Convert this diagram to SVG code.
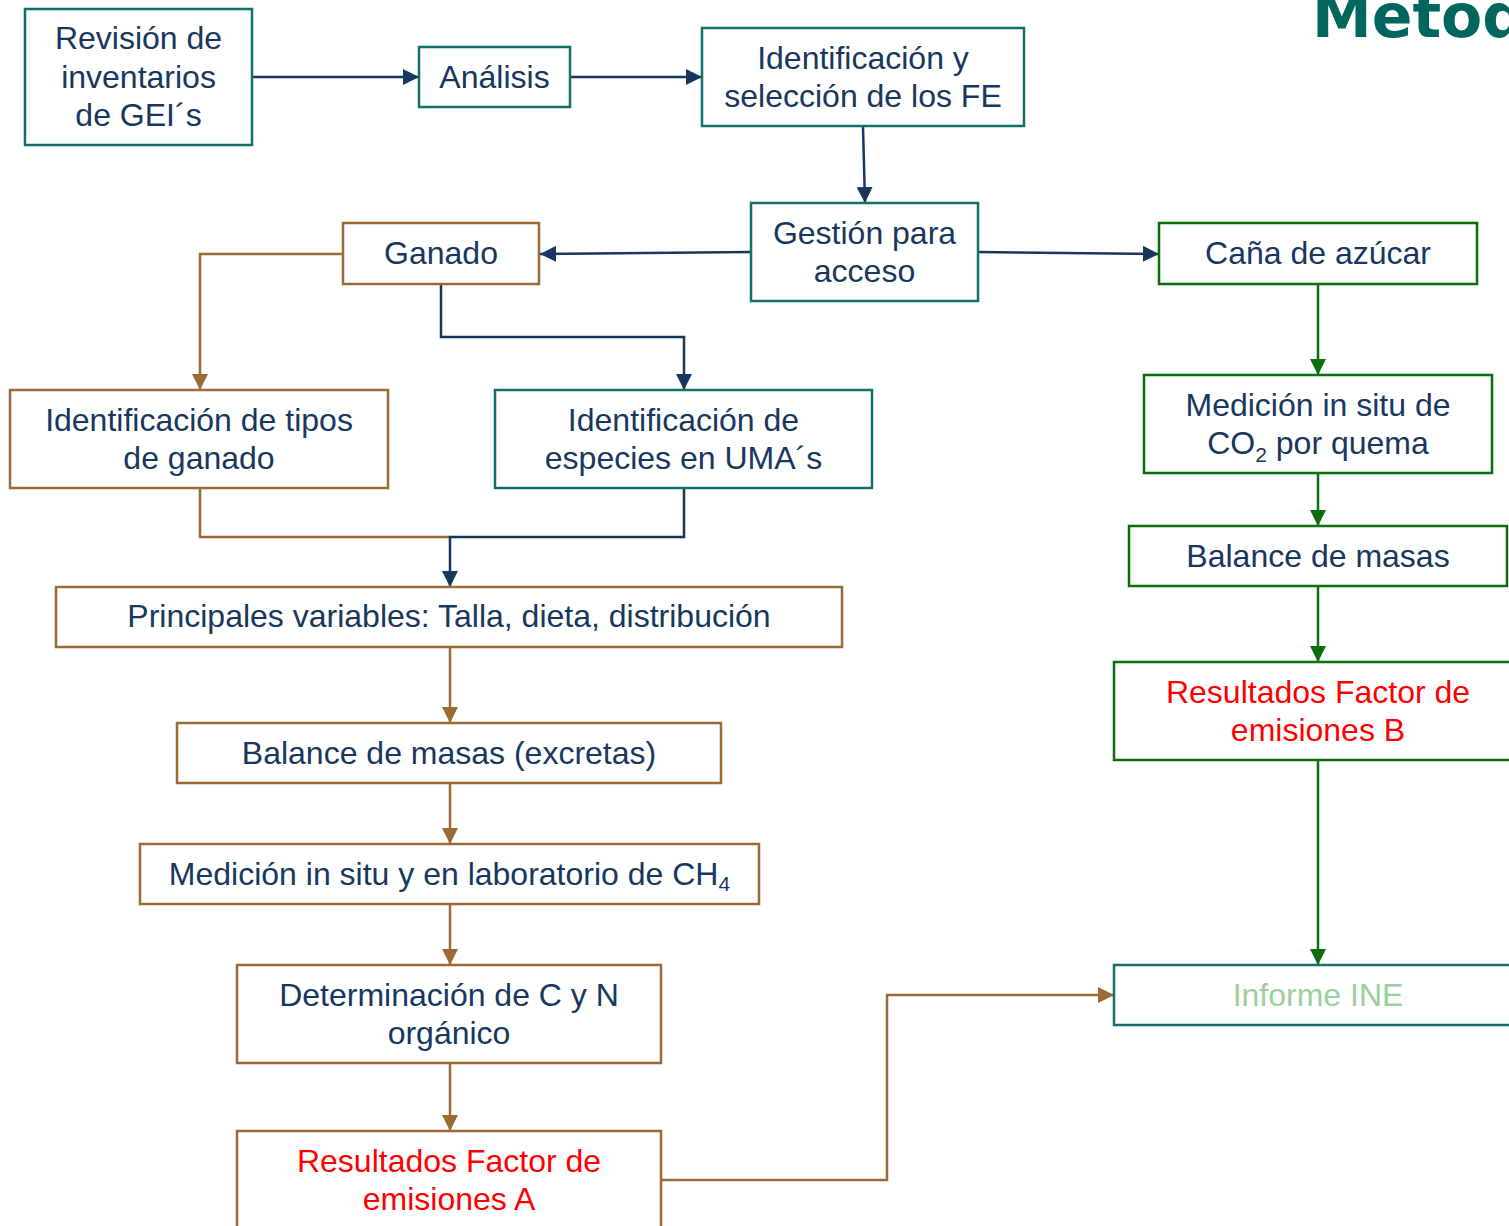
<svg xmlns="http://www.w3.org/2000/svg" width="1509" height="1226" viewBox="0 0 1509 1226">
<style>
.bx{fill:#fff;stroke-width:2.5}
.teal{stroke:#137069}
.brown{stroke:#9C6A34}
.green{stroke:#0A6E0A}
.t{font-family:"Liberation Sans",Arial,sans-serif;font-size:32px;fill:#17375E;text-anchor:middle}
.red{fill:#FF0000}
.lg{fill:#9CCF9C}
.sub{font-size:21px}
.c{fill:none;stroke-width:2.5}
.cn{stroke:#17375E}
.cb{stroke:#9C6A34}
.cg{stroke:#0A6E0A}
</style>
<defs>
<marker id="an" markerUnits="userSpaceOnUse" markerWidth="17" markerHeight="16" refX="16" refY="8" orient="auto"><path d="M0,0 L16,8 L0,16 z" fill="#17375E"/></marker>
<marker id="ab" markerUnits="userSpaceOnUse" markerWidth="17" markerHeight="16" refX="16" refY="8" orient="auto"><path d="M0,0 L16,8 L0,16 z" fill="#9C6A34"/></marker>
<marker id="ag" markerUnits="userSpaceOnUse" markerWidth="17" markerHeight="16" refX="16" refY="8" orient="auto"><path d="M0,0 L16,8 L0,16 z" fill="#0A6E0A"/></marker>
</defs>
<rect width="1509" height="1226" fill="#fff"/>
<text x="1312" y="37" style="font-family:'DejaVu Sans',sans-serif;font-weight:bold;font-size:60px;fill:#00665E">Metod</text>

<g id="connectors">
<path class="c cn" d="M252,77 H419" marker-end="url(#an)"/>
<path class="c cn" d="M570,77 H702" marker-end="url(#an)"/>
<path class="c cn" d="M863,127 L865,203" marker-end="url(#an)"/>
<path class="c cn" d="M751,252 L540,254" marker-end="url(#an)"/>
<path class="c cn" d="M978,252 L1159,254" marker-end="url(#an)"/>
<path class="c cb" d="M343,254 H200 V390" marker-end="url(#ab)"/>
<path class="c cn" d="M441,284 V337 H684 V390" marker-end="url(#an)"/>
<path class="c cb" d="M200,488 V537 H450"/>
<path class="c cn" d="M684,488 V537 H450 V587" marker-end="url(#an)"/>
<path class="c cb" d="M450,647 V723" marker-end="url(#ab)"/>
<path class="c cb" d="M450,783 V844" marker-end="url(#ab)"/>
<path class="c cb" d="M450,904 V965" marker-end="url(#ab)"/>
<path class="c cb" d="M450,1063 V1131" marker-end="url(#ab)"/>
<path class="c cb" d="M661,1180 H887 V995 H1114" marker-end="url(#ab)"/>
<path class="c cg" d="M1318,284 V375" marker-end="url(#ag)"/>
<path class="c cg" d="M1318,473 V526" marker-end="url(#ag)"/>
<path class="c cg" d="M1318,586 V662" marker-end="url(#ag)"/>
<path class="c cg" d="M1318,760 V965" marker-end="url(#ag)"/>
</g>

<g id="revision"><rect class="bx teal" x="25" y="9" width="227" height="136"/>
<text class="t" x="138.5" y="49">Revisión de</text><text class="t" x="138.5" y="88">inventarios</text><text class="t" x="138.5" y="126">de GEI´s</text></g>
<g id="analisis"><rect class="bx teal" x="419" y="47" width="151" height="60"/>
<text class="t" x="494.5" y="88">Análisis</text></g>
<g id="identificacion-fe"><rect class="bx teal" x="702" y="28" width="322" height="98"/>
<text class="t" x="863" y="69">Identificación y</text><text class="t" x="863" y="107">selección de los FE</text></g>
<g id="gestion"><rect class="bx teal" x="751" y="203" width="227" height="98"/>
<text class="t" x="864.5" y="244">Gestión para</text><text class="t" x="864.5" y="282">acceso</text></g>
<g id="ganado"><rect class="bx brown" x="343" y="223" width="196" height="61"/>
<text class="t" x="441" y="264">Ganado</text></g>
<g id="cana"><rect class="bx green" x="1159" y="223" width="318" height="61"/>
<text class="t" x="1318" y="264">Caña de azúcar</text></g>
<g id="tipos"><rect class="bx brown" x="10" y="390" width="378" height="98"/>
<text class="t" x="199" y="431">Identificación de tipos</text><text class="t" x="199" y="469">de ganado</text></g>
<g id="especies"><rect class="bx teal" x="495" y="390" width="377" height="98"/>
<text class="t" x="683.5" y="431">Identificación de</text><text class="t" x="683.5" y="469">especies en UMA´s</text></g>
<g id="medicion-co2"><rect class="bx green" x="1144" y="375" width="348" height="98"/>
<text class="t" x="1318" y="416">Medición in situ de</text><text class="t" x="1318" y="454">CO<tspan class="sub" dy="8">2</tspan><tspan dy="-8"> por quema</tspan></text></g>
<g id="balance"><rect class="bx green" x="1129" y="526" width="378" height="60"/>
<text class="t" x="1318" y="567">Balance de masas</text></g>
<g id="principales"><rect class="bx brown" x="56" y="587" width="786" height="60"/>
<text class="t" x="449" y="627">Principales variables: Talla, dieta, distribución</text></g>
<g id="balance-excretas"><rect class="bx brown" x="177" y="723" width="544" height="60"/>
<text class="t" x="449" y="764">Balance de masas (excretas)</text></g>
<g id="medicion-ch4"><rect class="bx brown" x="140" y="844" width="619" height="60"/>
<text class="t" x="449.5" y="885">Medición in situ y en laboratorio de CH<tspan class="sub" dy="6">4</tspan></text></g>
<g id="determinacion"><rect class="bx brown" x="237" y="965" width="424" height="98"/>
<text class="t" x="449" y="1006">Determinación de C y N</text><text class="t" x="449" y="1044">orgánico</text></g>
<g id="resultados-a"><rect class="bx brown" x="237" y="1131" width="424" height="120"/>
<text class="t red" x="449" y="1172">Resultados Factor de</text><text class="t red" x="449" y="1210">emisiones A</text></g>
<g id="resultados-b"><rect class="bx green" x="1114" y="662" width="410" height="98"/>
<text class="t red" x="1318" y="703">Resultados Factor de</text><text class="t red" x="1318" y="741">emisiones B</text></g>
<g id="informe"><rect class="bx teal" x="1114" y="965" width="410" height="60"/>
<text class="t lg" x="1318" y="1006">Informe INE</text></g>
</svg>
